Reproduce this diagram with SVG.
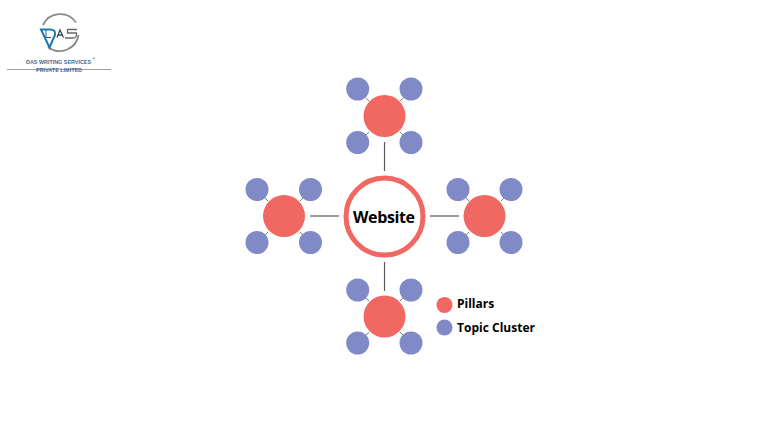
<svg xmlns="http://www.w3.org/2000/svg" width="768" height="432" viewBox="0 0 768 432">
<style>
.p{fill:#f16863}.t{fill:#7f8ac6}
.c line{stroke:#5a5a5a;stroke-width:1.2}
.l{font-family:"Open Sans","Noto Sans",sans-serif;font-weight:700;fill:#000}
.g{font-family:"Liberation Sans",sans-serif;fill:#3f6d97;font-size:5.400px;font-weight:700}
</style>
<rect width="768" height="432" fill="#fff"/>
<g id="logo">
<path d="M43 25A19 19 0 0 1 76 22.500" fill="none" stroke="#8a8a8a" stroke-width="1.800"/>
<path d="M78.500 35A19 19 0 0 1 48 47" fill="none" stroke="#8a8a8a" stroke-width="1.800"/>
<path d="M41 29.500H50Q56 29.500 55 35L49.500 47.500Z" fill="none" stroke="#1a78b0" stroke-width="2"/>
<path d="M46 30V37.500H51" fill="none" stroke="#2a5f86" stroke-width="1"/>
<path d="M57 37.500L60 30L63.500 37.500M58 35H62" fill="none" stroke="#3a4a58" stroke-width="1.300"/>
<path d="M77 29.500H67.500V33H76.500Q77 38 73 38H65" fill="none" stroke="#6a6a6a" stroke-width="1.300"/>
<line x1="7" y1="69.500" x2="111" y2="69.500" stroke="#777" stroke-width=".7"/>
<text class="g" x="26" y="64" textLength="65">DAS WRITING SERVICES</text>
<text class="g" x="92.500" y="60" style="font-size:3.500px">®</text>
<text class="g" x="36" y="71.500" textLength="46">PRIVATE LIMITED</text>
</g>
<g id="connectors" class="c">
<line x1="384.500" y1="142" x2="384.500" y2="171"/>
<line x1="384.500" y1="262" x2="384.500" y2="291"/>
<line x1="310" y1="216" x2="339" y2="216"/>
<line x1="430" y1="216" x2="459" y2="216"/>
<path d="M366 98L369 101M403 98L400 101M366 135L369 132M403 135L400 132M265 198L268 201M303 198L300 201M265 235L268 232M303 235L300 232M466 198L469 201M504 198L501 201M466 235L469 232M504 235L501 232M366 298L369 301M403 298L400 301M366 335L369 332M403 335L400 332" fill="none" stroke="#5a5a5a" stroke-width=".8"/>
</g>
<g id="website"><circle cx="384.500" cy="216.500" r="38.500" fill="#fff" stroke="#f16863" stroke-width="5"/>
<text class="l" x="384" y="222.500" font-size="16" text-anchor="middle" textLength="62">Website</text></g>
<g id="pillar-top"><circle class="p" cx="384.500" cy="116" r="21"/><circle class="t" cx="357.700" cy="89" r="11.500"/><circle class="t" cx="411" cy="89" r="11.500"/><circle class="t" cx="357.700" cy="142.500" r="11.500"/><circle class="t" cx="411" cy="142.500" r="11.500"/></g>
<g id="pillar-left"><circle class="p" cx="284" cy="216" r="21"/><circle class="t" cx="257" cy="189.500" r="11.500"/><circle class="t" cx="310.500" cy="189.500" r="11.500"/><circle class="t" cx="257" cy="242.500" r="11.500"/><circle class="t" cx="310.500" cy="242.500" r="11.500"/></g>
<g id="pillar-right"><circle class="p" cx="484.500" cy="216" r="21"/><circle class="t" cx="458" cy="189.500" r="11.500"/><circle class="t" cx="511" cy="189.500" r="11.500"/><circle class="t" cx="458" cy="242.500" r="11.500"/><circle class="t" cx="511" cy="242.500" r="11.500"/></g>
<g id="pillar-bottom"><circle class="p" cx="384.500" cy="316.500" r="21"/><circle class="t" cx="357.700" cy="290" r="11.500"/><circle class="t" cx="411" cy="290" r="11.500"/><circle class="t" cx="357.700" cy="343" r="11.500"/><circle class="t" cx="411" cy="343" r="11.500"/></g>
<g id="legend-pillars"><circle class="p" cx="444.500" cy="305" r="8"/><text class="l" x="457" y="308" font-size="12">Pillars</text></g>
<g id="legend-topic"><circle class="t" cx="444.500" cy="327.500" r="8"/><text class="l" x="457" y="332" font-size="12" textLength="78">Topic Cluster</text></g>
</svg>
